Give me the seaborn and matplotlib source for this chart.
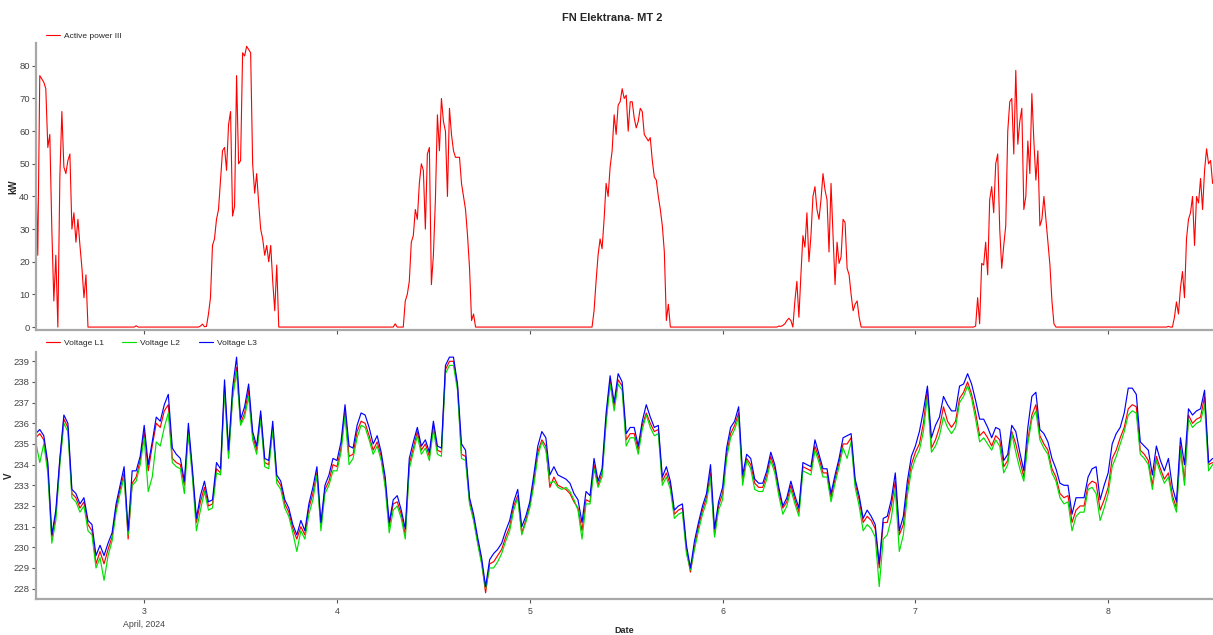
import pandas as pd
import matplotlib
matplotlib.use('Agg')
import matplotlib.pyplot as plt
import seaborn as sns

# ─── data ───────────────────────────────────────────────
POWER_START = "2024-04-02 10:30"   # 15 min samples
VOLT_START = "2024-04-02 10:30"    # 30 min samples

power_kw = [
    # Apr 2 10:30 - 17:00
    50, 22, 77, 76, 75, 73, 55, 59, 30, 8, 22, 0, 46, 66, 49, 47, 51, 53, 30, 35,
    26, 33, 25, 18, 9, 16, 0,
    # night 17:15 - 06:45 (55)
    0, 0, 0, 0, 0, 0, 0, 0, 0, 0, 0, 0,
    0, 0, 0, 0, 0, 0, 0, 0, 0, 0, 0, 0.4,
    0, 0, 0, 0, 0, 0, 0, 0, 0, 0, 0, 0,
    0, 0, 0, 0, 0, 0, 0, 0, 0, 0, 0, 0,
    0, 0, 0, 0, 0, 0, 0,
    # Apr 3 07:00 - 17:00
    0.3, 0.9, 0.1, 0.2, 4, 9, 25, 27, 33, 36, 45, 54, 55, 48, 62, 66, 34, 37, 77, 50,
    51, 84, 83, 86, 85, 84, 50, 41, 47, 38, 30, 27, 22, 25, 20, 25, 14, 5, 19, 0,
    0,
    # night (55)
    0, 0, 0, 0, 0, 0, 0, 0, 0, 0, 0, 0,
    0, 0, 0, 0, 0, 0, 0, 0, 0, 0, 0, 0,
    0, 0, 0, 0, 0, 0, 0, 0, 0, 0, 0, 0,
    0, 0, 0, 0, 0, 0, 0, 0, 0, 0, 0, 0,
    0, 0, 0, 0, 0, 0, 0,
    # Apr 4 07:00 - 17:15
    0, 1, 0, 0, 0, 0, 8, 10, 14, 26, 28, 36, 33, 44, 50, 48, 30, 53, 55, 13,
    22, 39, 65, 54, 70, 63, 60, 40, 67, 59, 54, 52, 52, 52, 44, 40, 36, 28, 18, 2,
    4, 0,
    # night (57)
    0, 0, 0, 0, 0, 0, 0, 0, 0, 0, 0, 0,
    0, 0, 0, 0, 0, 0, 0, 0, 0, 0, 0, 0,
    0, 0, 0, 0, 0, 0, 0, 0, 0, 0, 0, 0,
    0, 0, 0, 0, 0, 0, 0, 0, 0, 0, 0, 0,
    0, 0, 0, 0, 0, 0, 0, 0, 0,
    # Apr 5 07:45 - 17:30
    0, 5, 14, 22, 27, 24, 33, 44, 40, 49, 54, 65, 59, 68, 69, 73, 70, 71, 60, 69,
    69, 64, 61, 63, 67, 66, 59, 58, 57, 58, 51, 46, 45, 40, 36, 31, 23, 2, 7, 0,
    # night (53)
    0, 0, 0, 0, 0, 0, 0, 0, 0, 0, 0, 0,
    0, 0, 0, 0, 0, 0, 0, 0, 0, 0, 0, 0,
    0, 0, 0, 0, 0, 0, 0, 0, 0, 0, 0, 0,
    0, 0, 0, 0, 0, 0, 0, 0, 0, 0, 0, 0,
    0, 0, 0, 0, 0,
    # Apr 6 07:00 - 17:15
    0.3, 0.2, 0.5, 1, 2, 2.7, 2, 0, 8, 14, 3, 16, 28, 24.5, 35, 20, 28, 40, 43, 36,
    33, 39, 47, 42, 39, 23, 44, 28, 13, 26, 19.5, 21.5, 33, 32, 18, 16, 10, 5, 7, 8,
    3, 0,
    # night (54)
    0, 0, 0, 0, 0, 0, 0, 0, 0, 0, 0, 0,
    0, 0, 0, 0, 0, 0, 0, 0, 0, 0, 0, 0,
    0, 0, 0, 0, 0, 0, 0, 0, 0, 0, 0, 0,
    0, 0, 0, 0, 0, 0, 0, 0, 0, 0, 0, 0,
    0, 0, 0, 0, 0, 0,
    # Apr 7 07:00 - 17:30
    0, 0, 0.3, 9, 1, 19.5, 19, 26, 16, 39, 43, 35, 50, 53, 30, 18, 25, 31, 60, 69,
    70, 53, 78.6, 56, 63, 67, 36, 40, 57, 47, 71.5, 57, 45, 54, 31, 33, 40, 33, 26, 19,
    8, 1, 0,
    # night (53)
    0, 0, 0, 0, 0, 0, 0, 0, 0, 0, 0, 0,
    0, 0, 0, 0, 0, 0, 0, 0, 0, 0, 0, 0,
    0, 0, 0, 0, 0, 0, 0, 0, 0, 0, 0, 0,
    0, 0, 0, 0, 0, 0, 0, 0, 0, 0, 0, 0,
    0, 0, 0, 0, 0,
    # Apr 8 07:00 - 13:00
    0, 0, 0.2, 0, 0, 3, 7.7, 4, 12, 17, 9, 27, 33, 35, 40, 25, 40, 38, 45.5, 36,
    48, 54.6, 50, 51, 44,
]

volt_l1 = [
    235.3, 235.5, 235.2, 233.9, 230.4, 231.6, 234.2, 236.2, 235.8, 232.6, 232.4, 231.9,
    232.2, 231.1, 230.8, 229.2, 229.8, 229.2, 229.9, 230.5, 231.9, 232.8, 233.6, 230.4,
    233.1, 233.4, 234.2, 235.6, 233.7, 234.9, 236.0, 235.8, 236.6, 236.9, 234.3, 234.1,
    234.0, 233.0, 235.7, 233.6, 231.2, 232.2, 232.9, 232.0, 232.1, 233.8, 233.6, 237.8,
    234.5, 237.3, 238.7, 236.0, 236.5, 237.6, 235.4, 234.7, 236.4, 234.1, 234.0, 235.8,
    233.3, 233.0, 232.1, 231.7, 230.9, 230.4, 231.0, 230.6, 231.9, 232.6, 233.6, 231.0,
    232.8, 233.2, 234.0, 233.9, 234.8, 236.6, 234.4, 234.5, 235.6, 236.1, 236.0, 235.4,
    234.7, 235.1, 234.4, 233.1, 231.0, 232.1, 232.2, 231.6, 230.6, 234.0, 234.8, 235.6,
    234.7, 235.0, 234.4, 235.9, 234.7, 234.6, 238.6, 239.0, 239.0, 237.8, 234.5, 234.4,
    232.2, 231.4, 230.3, 229.3, 227.8, 229.2, 229.3, 229.6, 229.9, 230.5, 231.0, 232.0,
    232.5, 230.7, 231.3, 232.0, 233.2, 234.6, 235.2, 234.9, 232.9, 233.4, 233.0, 232.9,
    232.8, 232.6, 232.2, 231.9, 230.8, 232.3, 232.2, 234.0, 233.0, 233.6, 236.2, 238.1,
    236.8, 238.1, 237.8, 235.2, 235.5, 235.5, 234.7, 235.9, 236.5, 236.0, 235.6, 235.7,
    233.2, 233.6, 233.0, 231.6, 231.8, 231.9, 229.9, 228.8, 230.0, 231.0, 231.8, 232.4,
    233.6, 230.6, 232.0, 232.6, 234.5, 235.5, 235.9, 236.5, 233.2, 234.3, 234.0, 233.1,
    232.9, 232.9, 233.5, 234.4, 233.8, 232.7, 231.9, 232.2, 233.0, 232.3, 231.7, 233.9,
    233.8, 233.7, 234.9, 234.3, 233.6, 233.6, 232.4, 233.3, 234.1, 235.0, 235.0, 235.3,
    233.1, 232.3, 231.2, 231.5, 231.3, 230.9, 229.0, 231.2, 231.2, 232.0, 233.2, 230.6,
    231.1, 232.8, 234.0, 234.6, 235.0, 236.0, 237.6, 234.8, 235.2, 235.8, 236.8, 236.1,
    235.8, 236.1, 237.2, 237.5, 238.0, 237.4, 236.5, 235.4, 235.6, 235.3, 234.9, 235.4,
    235.2, 233.9, 234.2, 235.6, 235.0, 234.2, 233.4, 235.2, 236.4, 236.9, 235.4, 235.0,
    234.7, 233.8, 233.4, 232.6, 232.4, 232.5, 231.2, 231.8, 232.0, 232.0, 233.0, 233.2,
    233.1, 231.8, 232.3, 232.9, 234.3, 234.7, 235.3, 235.8, 236.7, 236.9, 236.8, 234.7,
    234.5, 234.2, 233.0, 234.4, 233.8, 233.3, 233.6, 232.5, 231.9, 234.9, 233.2, 236.4,
    236.0, 236.2, 236.3, 237.3, 234.0, 234.1,
]

volt_l2 = [
    235.1, 234.1, 235.0, 233.6, 230.2, 231.3, 234.0, 236.0, 235.6, 232.4, 232.2, 231.7,
    232.0, 230.8, 230.6, 229.0, 229.5, 228.4, 229.6, 230.3, 231.7, 232.6, 233.4, 230.6,
    233.0, 233.2, 234.0, 235.3, 232.7, 233.4, 235.1, 234.9, 235.8, 236.5, 234.1, 233.9,
    233.8, 232.6, 235.5, 233.4, 230.8, 231.8, 232.7, 231.8, 231.9, 233.6, 233.5, 237.6,
    234.3, 237.2, 238.5, 235.9, 236.3, 237.3, 235.2, 234.5, 236.2, 233.9, 233.8, 235.7,
    233.1, 232.8, 231.9, 231.5, 230.7, 229.8, 230.8, 230.4, 231.6, 232.3, 233.5, 230.8,
    232.6, 233.0, 233.7, 233.7, 234.6, 236.4, 234.0, 234.3, 235.3, 235.9, 235.8, 235.2,
    234.5, 234.9, 234.2, 232.9, 230.7, 231.8, 232.0, 231.4, 230.4, 233.8, 234.6, 235.4,
    234.5, 234.8, 234.2, 235.7, 234.5, 234.4, 238.4, 238.8, 238.8, 237.6, 234.3, 234.2,
    232.1, 231.3, 230.2, 229.2, 228.0, 229.0, 229.0, 229.3, 229.7, 230.3, 230.8, 231.8,
    232.4, 230.6, 231.2, 231.9, 233.0, 234.4, 235.1, 234.7, 233.1, 233.2, 232.9, 232.8,
    232.9, 232.7, 232.3, 231.8, 230.4, 232.1, 232.1, 233.8, 232.9, 233.4, 236.0, 237.9,
    236.6, 237.9, 237.6, 234.9, 235.3, 235.3, 234.5, 235.7, 236.4, 235.8, 235.4, 235.5,
    233.0, 233.4, 232.8, 231.4, 231.6, 231.7, 229.7, 228.9, 229.9, 230.8, 231.6, 232.2,
    233.4, 230.5, 231.8, 232.3, 234.3, 235.3, 235.7, 236.3, 233.0, 234.2, 233.8, 232.8,
    232.7, 232.7, 233.3, 234.2, 233.6, 232.5, 231.6, 232.0, 232.8, 232.1, 231.5, 233.7,
    233.6, 233.5, 234.7, 234.1, 233.4, 233.4, 232.2, 233.1, 233.9, 234.8, 234.3, 235.1,
    232.9, 232.0, 230.8, 231.1, 230.9, 230.5, 228.1, 230.4, 230.6, 231.4, 232.8, 229.8,
    230.6, 232.5, 233.7, 234.3, 234.7, 235.6, 237.3, 234.6, 234.9, 235.4, 236.3, 235.8,
    235.5, 235.8, 237.0, 237.3, 237.8, 237.2, 236.2, 235.1, 235.3, 235.0, 234.7, 235.2,
    234.9, 233.6, 234.0, 235.5, 234.6, 233.8, 233.2, 235.0, 236.2, 236.6, 235.2, 234.8,
    234.5, 233.6, 233.2, 232.4, 232.1, 232.2, 230.8, 231.5, 231.7, 231.7, 232.8, 232.9,
    232.6, 231.3, 231.9, 232.6, 233.9, 234.4, 235.0, 235.6, 236.4, 236.6, 236.5, 234.5,
    234.3, 234.0, 232.8, 234.2, 233.6, 233.1, 233.4, 232.3, 231.7, 234.7, 233.0, 236.2,
    235.8, 236.0, 236.1, 236.9, 233.7, 234.0,
]

volt_l3 = [
    235.5, 235.7, 235.4, 234.1, 230.6, 231.8, 234.3, 236.4, 236.0, 232.8, 232.6, 232.1,
    232.4, 231.3, 231.1, 229.6, 230.1, 229.6, 230.2, 230.7, 232.1, 233.0, 233.9, 230.8,
    233.7, 233.7, 234.4, 235.9, 234.0, 235.1, 236.3, 236.1, 236.9, 237.4, 234.8, 234.5,
    234.3, 233.2, 236.0, 233.8, 231.4, 232.5, 233.2, 232.2, 232.3, 234.1, 233.8, 238.1,
    234.7, 237.7, 239.2, 236.2, 236.8, 237.9, 235.6, 234.9, 236.6, 234.3, 234.2, 236.1,
    233.5, 233.2, 232.3, 231.9, 231.1, 230.6, 231.3, 230.8, 232.1, 232.9, 233.9, 231.2,
    233.0, 233.5, 234.3, 234.2, 235.1, 236.9, 234.9, 234.8, 235.9, 236.5, 236.4, 235.8,
    235.0, 235.4, 234.6, 233.4, 231.2, 232.3, 232.5, 231.8, 230.9, 234.3, 235.1, 235.8,
    234.9, 235.2, 234.6, 236.1, 234.9, 234.8, 238.8, 239.2, 239.2, 237.9, 235.0, 234.7,
    232.4, 231.6, 230.5, 229.5, 228.1, 229.4, 229.7, 229.9, 230.2, 230.8, 231.3, 232.2,
    232.8, 231.0, 231.5, 232.2, 233.5, 234.9, 235.6, 235.3, 233.5, 233.9, 233.5, 233.4,
    233.3, 233.1, 232.6, 232.3, 231.2, 232.7, 232.5, 234.3, 233.2, 233.8, 236.5, 238.3,
    237.0, 238.4, 238.0, 235.5, 235.8, 235.8, 234.9, 236.1, 236.9, 236.3, 235.8, 235.9,
    233.4, 233.9, 233.2, 231.8, 232.0, 232.1, 230.1, 229.0, 230.3, 231.2, 232.0, 232.6,
    234.0, 230.9, 232.2, 232.9, 234.8, 235.8, 236.1, 236.8, 233.5, 234.5, 234.3, 233.3,
    233.1, 233.1, 233.7, 234.6, 234.0, 232.9, 232.0, 232.4, 233.2, 232.5, 231.9, 234.1,
    234.0, 233.9, 235.2, 234.5, 233.8, 233.8, 232.6, 233.5, 234.3, 235.3, 235.4, 235.5,
    233.3, 232.5, 231.4, 231.8, 231.5, 231.1, 229.2, 231.4, 231.5, 232.3, 233.6, 230.8,
    231.5, 233.2, 234.4, 234.9, 235.6, 236.6, 237.8, 235.3, 235.9, 236.3, 237.3, 236.9,
    236.6, 236.6, 237.8, 237.9, 238.4, 237.9, 237.1, 236.2, 236.2, 235.8, 235.3, 235.8,
    235.7, 234.2, 234.5, 235.9, 235.6, 234.6, 233.7, 235.8, 237.3, 237.5, 235.7, 235.5,
    235.1, 234.3, 233.8, 233.1, 233.0, 233.0, 231.6, 232.4, 232.4, 232.4, 233.4, 233.8,
    233.9, 232.3, 233.0, 233.6, 235.0, 235.5, 235.8, 236.5, 237.7, 237.7, 237.4, 235.1,
    234.9, 234.7, 233.5, 234.9, 234.2, 233.7, 234.3, 232.9, 232.2, 235.3, 234.0, 236.7,
    236.4, 236.6, 236.7, 237.6, 234.1, 234.3,
]

day_ticks = ["2024-04-03", "2024-04-04", "2024-04-05", "2024-04-06", "2024-04-07", "2024-04-08"]
day_labels = ["3\nApril, 2024", "4", "5", "6", "7", "8"]

# ─── style ───────────────────────────────────────────────
sns.set_style("white")
plt.rcParams['font.family'] = ['Liberation Sans', 'DejaVu Sans']

SPINE = "#a8a8a8"
TXT = "#444444"

p_time = pd.date_range(POWER_START, periods=len(power_kw), freq="15min")
v_time = pd.date_range(VOLT_START, periods=len(volt_l1), freq="30min")
power_df = pd.DataFrame({"Date": p_time, "kW": power_kw})
volt_df = pd.DataFrame({"Date": v_time, "L1": volt_l1, "L2": volt_l2, "L3": volt_l3})

fig = plt.figure(figsize=(12.13, 6.35), dpi=100)
ax1 = fig.add_axes([0.0297, 0.4803, 0.9703, 0.452])
ax2 = fig.add_axes([0.0297, 0.0567, 0.9703, 0.389], sharex=ax1)

sns.lineplot(data=power_df, x="Date", y="kW", ax=ax1, color="#ff0000", lw=0.8,
             label="Active power III")
sns.lineplot(data=volt_df, x="Date", y="L1", ax=ax2, color="#ff0000", lw=0.85, label="Voltage L1")
sns.lineplot(data=volt_df, x="Date", y="L2", ax=ax2, color="#00e000", lw=0.85, label="Voltage L2")
sns.lineplot(data=volt_df, x="Date", y="L3", ax=ax2, color="#0000ff", lw=0.85, label="Voltage L3")

ax1.set_ylim(-0.9, 87)
ax1.set_yticks(range(0, 81, 10))
ax2.set_ylim(227.5, 239.45)
ax2.set_yticks(range(228, 240))
ax1.set_xlim(pd.Timestamp("2024-04-02 10:32"), pd.Timestamp("2024-04-08 13:03"))
ax2.set_xticks(pd.to_datetime(day_ticks))
ax2.set_xticklabels(day_labels)
for lbl in ax2.get_xticklabels():
    lbl.set_linespacing(1.5)

for ax in (ax1, ax2):
    for s in ("top", "right"):
        ax.spines[s].set_visible(False)
    for s in ("left", "bottom"):
        ax.spines[s].set_color(SPINE)
        ax.spines[s].set_linewidth(1.6)
    ax.tick_params(axis="both", labelcolor=TXT, color="#555555",
                   length=3, width=0.8, direction="out", left=True, bottom=True)
    ax.tick_params(axis="y", pad=1.5, labelsize=6.8)
    ax.tick_params(axis="x", pad=3, labelsize=6.3)
    ax.grid(False)

ax1.tick_params(labelbottom=False)
ax1.set_xlabel("")
ax1.set_ylabel("kW", fontsize=7, fontweight="bold")
ax1.yaxis.set_label_coords(-0.0153, 0.5)
ax2.set_ylabel("V", fontsize=7, fontweight="bold")
ax2.yaxis.set_label_coords(-0.0187, 0.5)
ax2.set_xlabel("Date", fontsize=6.5, fontweight="bold")
ax2.xaxis.set_label_coords(0.5, -0.109)

ax1.legend(loc="center left", bbox_to_anchor=(0.0083, 1.024), frameon=False, fontsize=6,
           handlelength=1.7, handletextpad=0.48, borderpad=0, borderaxespad=0)
ax2.legend(loc="center left", bbox_to_anchor=(0.0083, 1.036), frameon=False, fontsize=6,
           ncol=3, handlelength=1.7, handletextpad=0.48, columnspacing=2.2,
           borderpad=0, borderaxespad=0)

fig.text(0.505, 1 - 18 / 635, "FN Elektrana- MT 2", ha="center", va="center",
         fontsize=8, fontweight="bold")

plt.savefig("out.png", dpi=100)
plt.close()
